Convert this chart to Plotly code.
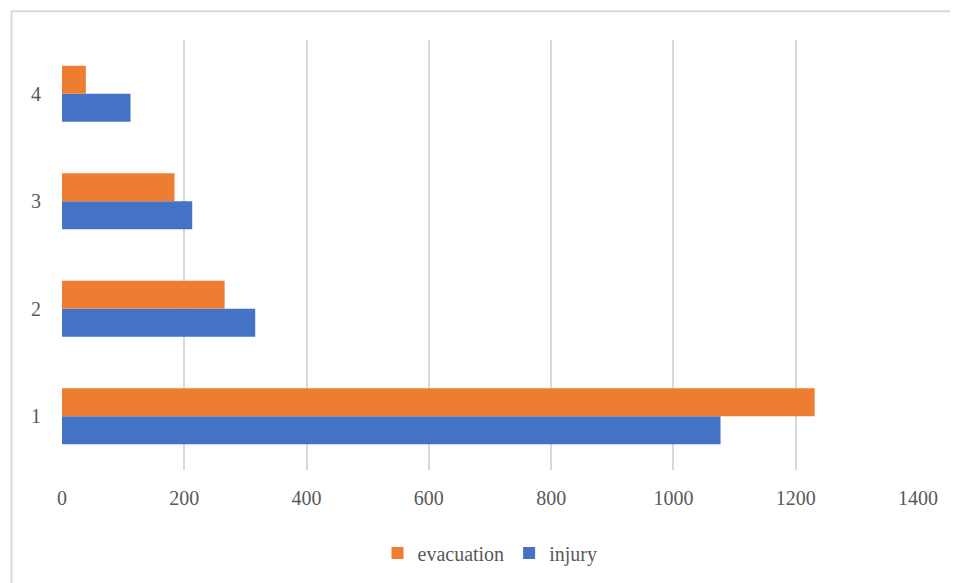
import plotly.graph_objects as go

categories = ["1", "2", "3", "4"]
injury = [1077, 316, 213, 112]
evacuation = [1231, 266, 184, 39]
x_ticks = [0, 200, 400, 600, 800, 1000, 1200, 1400]

font_family = "Liberation Serif, Times New Roman, serif"
text_color = "#595959"
fs = 20

fig = go.Figure()
fig.add_trace(go.Bar(y=categories, x=injury, name="injury", orientation="h",
                     marker=dict(color="#4472C4", line=dict(width=0))))
fig.add_trace(go.Bar(y=categories, x=evacuation, name="evacuation", orientation="h",
                     marker=dict(color="#ED7D31", line=dict(width=0))))

# page body has an 8px default margin, so the figure is offset by 8px
fig.update_layout(
    width=950, height=575,
    margin=dict(l=53.5, r=40, t=32, b=112, pad=0),
    paper_bgcolor="white", plot_bgcolor="white",
    barmode="group", bargap=0.48, bargroupgap=0,
    font=dict(family=font_family, size=fs, color=text_color),
    showlegend=True,
    legend=dict(orientation="h", traceorder="reversed", x=0.5, xanchor="center",
                y=-0.19, yanchor="middle", font=dict(size=fs, color=text_color),
                itemwidth=30, bgcolor="rgba(0,0,0,0)"),
    xaxis=dict(range=[0, 1400], tickvals=x_ticks, showgrid=True, gridcolor="#D9D9D9",
               gridwidth=2, zeroline=False, showline=False, ticks="",
               ticklabelstandoff=14, tickfont=dict(size=fs, color=text_color)),
    yaxis=dict(type="category", showgrid=False, zeroline=False,
               showline=False, ticks="", ticklabelstandoff=20,
               tickfont=dict(size=fs, color=text_color)),
    shapes=[dict(type="rect", xref="paper", yref="paper",
                 x0=-0.059, x1=1.2, y0=-0.6, y1=1.067,
                 line=dict(color="#D9D9D9", width=2), fillcolor="rgba(0,0,0,0)",
                 layer="below")],
)
fig.update_yaxes(range=[-0.5, 3.5])

fig.write_html("out.html")
